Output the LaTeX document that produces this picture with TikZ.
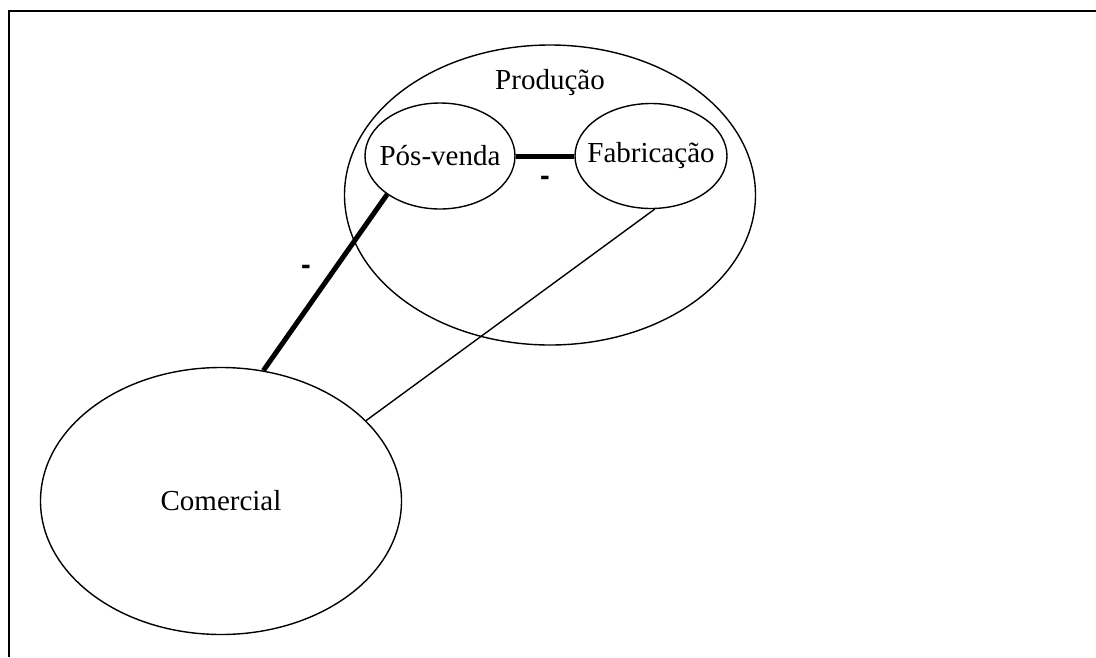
\documentclass[tikz,border=0pt]{standalone}
\usepackage{fontspec}
\setmainfont{Liberation Serif}
\newfontfamily\dashfont{Liberation Sans}
\usetikzlibrary{shapes.geometric}
% text that does not widen the ellipse around it
\newcommand{\zlabel}[1]{\makebox[0pt]{#1}}
\begin{document}
\begin{tikzpicture}[x=1pt,y=-1pt,
  blob/.style={draw,ellipse,line width=1.4pt,inner sep=0pt,
    font=\fontsize{29}{32}\selectfont},
  strong/.style={line width=5pt},
  weak/.style={line width=1.4pt},
  minus/.style={font=\dashfont\bfseries\fontsize{29}{32}\selectfont,inner sep=0pt}]
  \useasboundingbox (0,0) rectangle (1096,657);
  % open frame: top and left edges only
  \coordinate (fbl) at (9,657);
  \coordinate (ftl) at (9,11);
  \coordinate (ftr) at (1096,11);
  \draw[line width=2pt] (fbl) -- (ftl) -- (ftr);

  % production area with its two sub-areas
  \node[blob,minimum width=411pt,minimum height=300pt] (prod) at (550,195) {};
  \node[font=\fontsize{29}{32}\selectfont] (prodlbl) at (550,83) {Produção};
  \node[blob,minimum width=150pt,minimum height=106pt] (pv) at (440,156) {\zlabel{Pós-venda}};
  \node[blob,minimum width=152pt,minimum height=105pt] (fab) at (651,156) {\zlabel{Fabricação}};
  \node[blob,minimum width=361pt,minimum height=267pt] (com) at (221,501) {\zlabel{Comercial}};

  % relations
  \draw[strong] (pv.east) -- (fab.west);
  \draw[strong] (pv.216) -- (com.72);
  \draw[weak] (fab.274) -- (com.29);

  % signs of the relations
  \node[minus] (m1) at (545,181) {-};
  \node[minus] (m2) at (306,270) {-};
\end{tikzpicture}
\end{document}
